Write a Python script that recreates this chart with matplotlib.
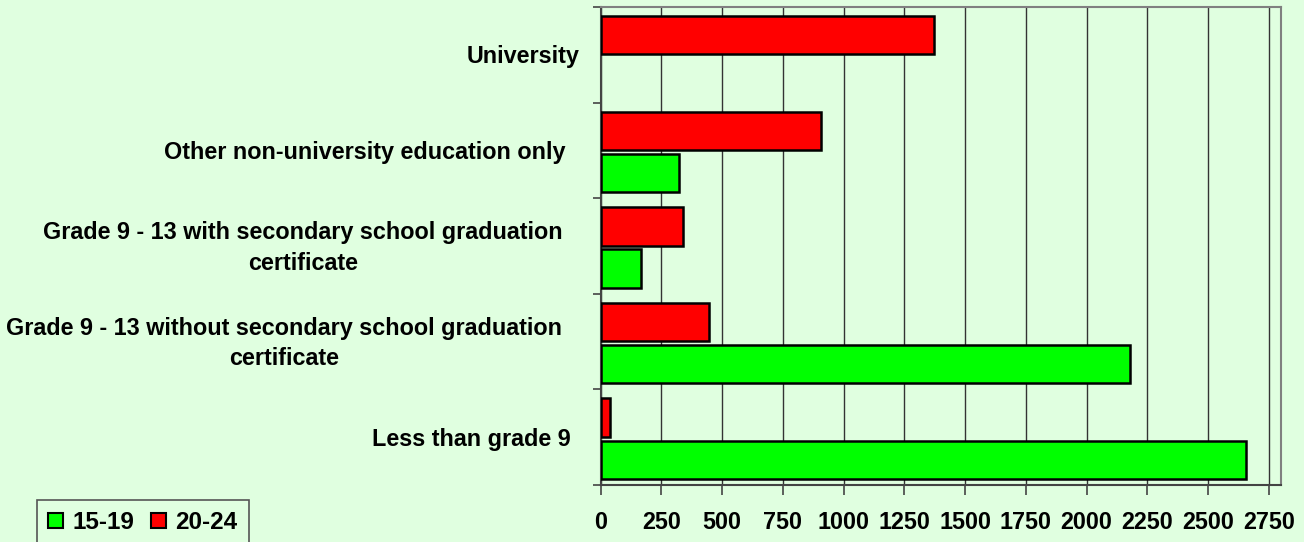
import matplotlib
matplotlib.use("Agg")
import matplotlib.pyplot as plt
import matplotlib.transforms as mtransforms
import numpy as np

plt.rcParams['font.family'] = ['Liberation Sans', 'DejaVu Sans']

categories = [
    "University",
    "Other non-university education only",
    "Grade 9 - 13 with secondary school graduation\ncertificate",
    "Grade 9 - 13 without secondary school graduation\ncertificate",
    "Less than grade 9",
]
age_15_19 = [0, 322, 166, 2180, 2658]
age_20_24 = [1372, 905, 340, 445, 37]
series_labels = ["15-19", "20-24"]
x_ticks = [0, 250, 500, 750, 1000, 1250, 1500, 1750, 2000, 2250, 2500, 2750]

bg = '#E0FFE0'
W, H = 1304, 542
fig = plt.figure(figsize=(W / 100, H / 100), dpi=100, facecolor=bg)
ax = fig.add_axes([600.7 / W, 1 - 485 / H, (1281 - 600.7) / W, (485 - 7) / H])
ax.set_facecolor(bg)

y = np.arange(len(categories))
bh = 0.40
lw1 = [0 if v == 0 else 1.8 for v in age_15_19]
lw2 = [0 if v == 0 else 1.8 for v in age_20_24]
b1 = ax.barh(y + 0.235, age_15_19, height=bh, color='#00FF00', edgecolor='black',
             linewidth=lw1, zorder=3, label=series_labels[0])
b2 = ax.barh(y - 0.205, age_20_24, height=bh, color='#FF0000', edgecolor='black',
             linewidth=lw2, zorder=3, label=series_labels[1])

ax.set_xlim(0, 2800)
ax.set_ylim(len(categories) - 0.5, -0.5)
ax.set_xticks(x_ticks)
ax.set_xticklabels([str(t) for t in x_ticks], fontsize=16.8, fontweight='bold')
ax.xaxis.grid(True, color='#333333', linewidth=1.0, zorder=1)
ax.set_axisbelow(True)

# category labels at centers, ticks at boundaries
ax.set_yticks(y)
ax.set_yticklabels([])
ax.tick_params(axis='y', which='major', length=0)
label_right = [580, 566, 563, 562, 571]
trans = mtransforms.blended_transform_factory(fig.transFigure, ax.transData)
for yi, lab, xr in zip(y, categories, label_right):
    ax.text(xr / W, yi + 0.02, lab, transform=trans, ha='right', va='center',
            multialignment='center', fontsize=16.8, fontweight='bold',
            linespacing=1.4, clip_on=False)
ax.set_yticks(np.arange(len(categories) + 1) - 0.5, minor=True)
ax.tick_params(axis='y', which='minor', length=6, width=1.2, color='#444444', direction='out')
ax.tick_params(axis='x', which='major', length=7, width=1.2, color='#444444', pad=12,
               direction='out')

for s in ['left', 'bottom']:
    ax.spines[s].set_color('#444444')
    ax.spines[s].set_linewidth(1.5)
for s in ['top', 'right']:
    ax.spines[s].set_color('#808080')
    ax.spines[s].set_linewidth(1.5)

leg = fig.legend(handles=[b1, b2], labels=series_labels, loc='upper left',
                 bbox_to_anchor=(37 / W, 1 - 500 / H), ncol=2,
                 prop={'weight': 'bold', 'size': 17.5}, frameon=True, fancybox=False,
                 edgecolor='#555555', facecolor=bg, framealpha=1,
                 handlelength=0.6, handleheight=0.6, handletextpad=0.4,
                 columnspacing=0.7, borderpad=0.45, borderaxespad=0)
leg.get_frame().set_linewidth(1.2)
for p in leg.get_patches():
    p.set_linewidth(1.5)

fig.savefig('out.png', dpi=100, facecolor=bg)
